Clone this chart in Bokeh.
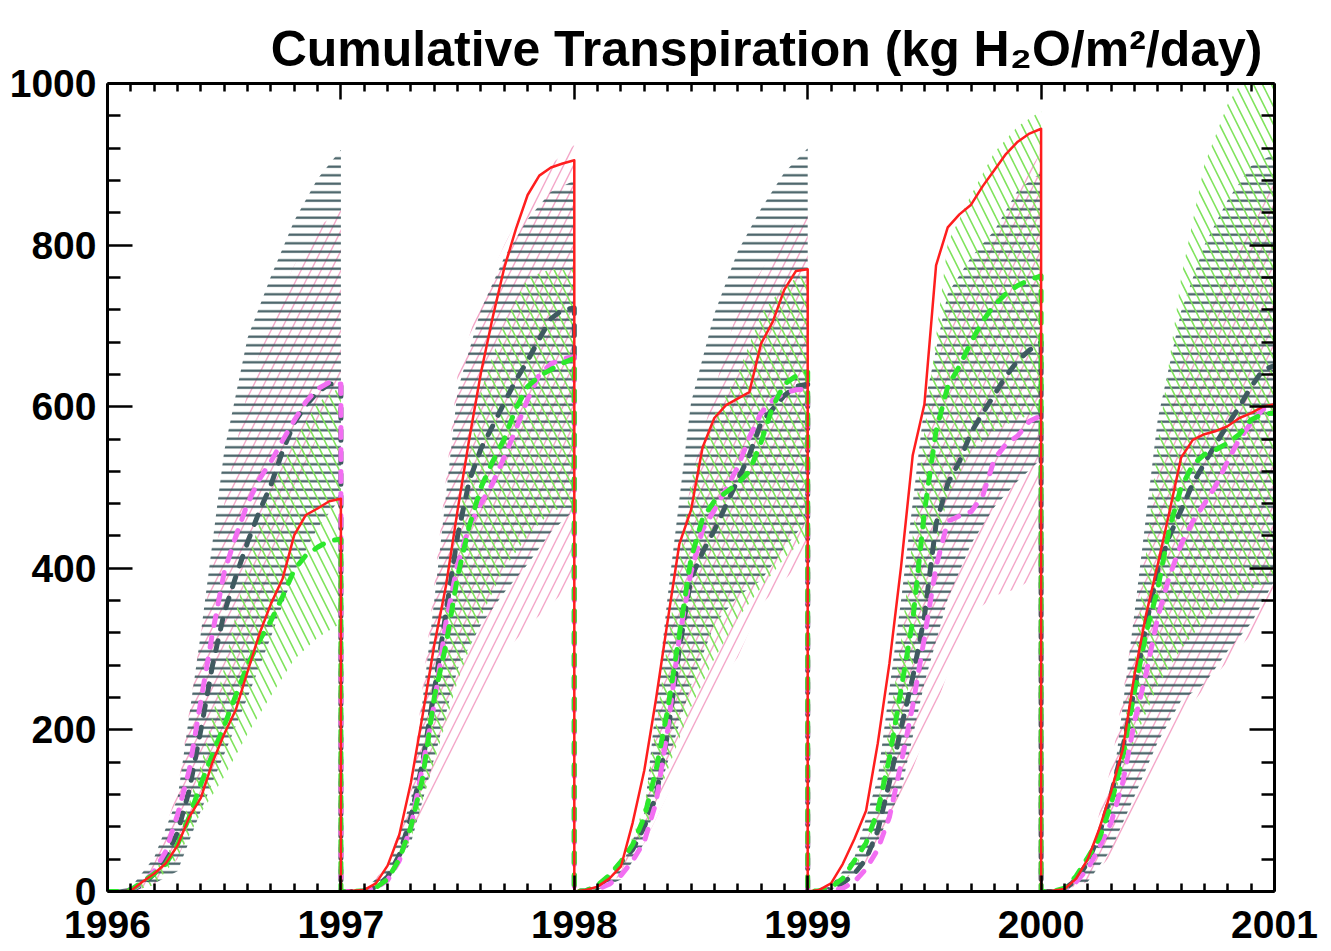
from bokeh.plotting import figure
from bokeh.models import FixedTicker, LinearAxis, Range1d, CustomJSTickFormatter
from bokeh.embed import file_html
from bokeh.resources import INLINE

YEARS = [1996, 1997, 1998, 1999, 2000]
X_TICKS = [1996, 1997, 1998, 1999, 2000, 2001]
Y_TICKS = [0, 200, 400, 600, 800, 1000]

# fraction of the year at which the curves were read
T_LINE = [0.0, 0.05, 0.1, 0.15, 0.2, 0.25, 0.3, 0.35, 0.4, 0.45, 0.5,
          0.55, 0.6, 0.65, 0.7, 0.75, 0.8, 0.85, 0.9, 0.95, 1.0]
T_BAND = [0.0, 0.1, 0.2, 0.3, 0.4, 0.5, 0.6, 0.7, 0.8, 0.9, 1.0]

RED = [
    [0, 0, 1, 12, 22, 35, 57, 92, 116, 160, 195, 225, 272, 318, 356, 387, 441, 466, 474, 483, 486],
    [0, 1, 2, 10, 32, 70, 135, 218, 305, 378, 472, 560, 642, 710, 772, 820, 862, 886, 896, 901, 905],
    [0, 2, 6, 16, 31, 85, 150, 238, 335, 430, 472, 550, 586, 602, 610, 618, 678, 705, 745, 768, 770],
    [0, 2, 10, 34, 65, 100, 183, 282, 402, 540, 603, 775, 822, 838, 850, 873, 893, 913, 928, 938, 944],
    [0, 1, 3, 16, 40, 78, 124, 176, 268, 343, 405, 470, 537, 559, 566, 570, 576, 586, 592, 600, 603],
]
GRAY = [
    [0, 0, 2, 8, 22, 42, 73, 125, 200, 280, 345, 390, 432, 470, 503, 545, 580, 602, 618, 628, 628],
    [0, 0, 1, 5, 18, 45, 92, 160, 248, 345, 440, 508, 548, 576, 605, 633, 657, 684, 709, 720, 722],
    [0, 1, 6, 18, 36, 52, 80, 118, 195, 300, 388, 420, 447, 478, 509, 540, 580, 597, 614, 625, 628],
    [0, 0, 3, 10, 22, 40, 75, 135, 202, 265, 340, 455, 505, 532, 568, 592, 615, 638, 657, 670, 680],
    [0, 0, 3, 14, 36, 72, 120, 178, 250, 330, 398, 440, 472, 505, 530, 555, 578, 600, 625, 645, 651],
]
VIOLET = [
    [0, 0, 2, 10, 25, 50, 95, 150, 236, 320, 395, 440, 480, 510, 532, 558, 583, 606, 622, 630, 628],
    [0, 0, 1, 4, 14, 38, 80, 155, 232, 333, 405, 452, 480, 505, 538, 572, 609, 640, 653, 659, 662],
    [0, 0, 3, 9, 20, 38, 62, 110, 200, 315, 395, 448, 472, 498, 525, 562, 592, 608, 617, 621, 622],
    [0, 0, 1, 4, 12, 28, 52, 92, 158, 230, 314, 402, 458, 465, 470, 490, 535, 554, 564, 582, 589],
    [0, 0, 2, 12, 28, 55, 85, 135, 210, 270, 340, 390, 430, 458, 480, 503, 533, 560, 580, 597, 598],
]
GREEN = [
    [0, 0, 2, 12, 22, 34, 58, 92, 133, 170, 205, 243, 280, 310, 335, 365, 398, 416, 426, 434, 436],
    [0, 0, 1, 5, 15, 40, 80, 140, 240, 305, 390, 452, 500, 532, 560, 598, 625, 638, 646, 654, 660],
    [0, 1, 8, 20, 37, 58, 92, 150, 225, 318, 412, 462, 483, 494, 505, 520, 556, 600, 628, 638, 643],
    [0, 1, 5, 16, 38, 60, 100, 165, 250, 335, 470, 570, 625, 650, 680, 706, 726, 740, 750, 757, 762],
    [0, 0, 4, 19, 42, 66, 108, 168, 248, 320, 375, 450, 500, 528, 541, 547, 555, 566, 584, 591, 592],
]

GRAY_HI = [
    [0, 5, 42, 115, 320, 545, 685, 761, 830, 882, 918],
    [0, 3, 28, 112, 360, 620, 720, 785, 832, 866, 880],
    [0, 6, 30, 97, 365, 605, 715, 792, 845, 890, 920],
    [0, 8, 42, 140, 360, 602, 740, 785, 818, 868, 890],
    [0, 5, 36, 115, 345, 585, 718, 800, 856, 898, 913],
]
GRAY_LO = [
    [0, 0, 10, 25, 100, 170, 240, 315, 395, 450, 487],
    [0, 0, 20, 60, 165, 275, 330, 370, 405, 445, 472],
    [0, 2, 15, 60, 160, 255, 330, 365, 385, 425, 460],
    [0, 2, 18, 62, 125, 258, 362, 430, 476, 508, 535],
    [0, 2, 12, 52, 118, 185, 236, 257, 298, 332, 385],
]
PINK_HI = [
    [0, 3, 35, 125, 320, 480, 620, 710, 775, 822, 843],
    [0, 2, 32, 125, 380, 640, 735, 800, 856, 900, 924],
    [0, 5, 25, 100, 300, 510, 620, 722, 768, 812, 843],
    [0, 4, 25, 98, 310, 545, 720, 762, 817, 871, 915],
    [0, 6, 40, 155, 335, 518, 651, 715, 770, 820, 880],
]
PINK_LO = [
    [0, 0, 8, 40, 110, 190, 290, 400, 480, 565, 630],
    [0, 0, 14, 55, 117, 182, 240, 295, 328, 355, 385],
    [0, 1, 20, 60, 120, 180, 250, 290, 355, 385, 418],
    [0, 2, 16, 55, 113, 190, 270, 342, 366, 375, 395],
    [0, 2, 12, 45, 104, 160, 215, 252, 285, 318, 378],
]
GREEN_HI = [
    [0, 2, 25, 65, 157, 278, 410, 500, 558, 605, 625],
    [0, 1, 15, 80, 270, 450, 620, 705, 760, 770, 770],
    [0, 5, 31, 105, 310, 510, 590, 640, 715, 750, 767],
    [0, 4, 26, 105, 310, 570, 803, 862, 915, 947, 966],
    [0, 5, 38, 105, 285, 555, 760, 900, 975, 1020, 1040],
]
GREEN_LO = [
    [0, 0, 8, 42, 97, 142, 195, 242, 287, 314, 332],
    [0, 0, 10, 65, 160, 260, 340, 400, 440, 470, 480],
    [0, 2, 30, 74, 150, 228, 288, 338, 376, 412, 441],
    [0, 3, 25, 88, 205, 355, 490, 545, 570, 585, 592],
    [0, 2, 32, 110, 187, 255, 300, 335, 360, 375, 385],
]

TITLE = "Cumulative Transpiration (kg H\u2082O/m\u00b2/day)"
FONT = "Liberation Sans"


def chain(series, grid):
    xs, ys = [], []
    for yr, vals in zip(YEARS, series):
        xs += [yr + t for t in grid]
        ys += list(vals)
    return xs, ys


p = figure(frame_width=1167, frame_height=808,
           x_range=Range1d(1996, 2001), y_range=Range1d(0, 1000),
           output_backend="svg", toolbar_location=None,
           min_border_left=107, min_border_top=83,
           min_border_right=49, min_border_bottom=56)
p.xgrid.visible = False
p.ygrid.visible = False
p.outline_line_color = None
p.background_fill_color = "white"
p.border_fill_color = "white"

p.title.text = TITLE
p.title.align = "right"
p.title.offset = 12
p.title.standoff = 13
p.title.text_font = FONT
p.title.text_font_style = "bold"
p.title.text_font_size = "50px"
p.title.text_color = "black"

# hatched min/max bands
bands = [
    (PINK_LO, PINK_HI, "/", "#F4A6C8", 1.4, 20),
    (GRAY_LO, GRAY_HI, "-", "#3F5A60", 2.2, 8.5),
    (GREEN_LO, GREEN_HI, "\\", "#7FE35C", 1.6, 18),
]
for lo, hi, pat, col, w, sc in bands:
    for i, yr in enumerate(YEARS):
        xs = [yr + t for t in T_BAND]
        p.varea(x=xs, y1=lo[i], y2=hi[i], fill_color="white", fill_alpha=0,
                hatch_pattern=pat, hatch_color=col, hatch_weight=w,
                hatch_scale=sc, hatch_alpha=1)

# dashed model lines and observed red line
for series, col in [(GRAY, "#3F5A60"), (VIOLET, "#F26EF2"), (GREEN, "#2CE82C")]:
    xs, ys = chain(series, T_LINE)
    p.line(xs, ys, line_color=col, line_width=5, line_dash="10 12",
           line_cap="round", line_join="round")
xs, ys = chain(RED, T_LINE)
p.line(xs, ys, line_color="#FF1E1E", line_width=2.5, line_join="round")

x_minor = [y + k / 10 for y in YEARS for k in range(1, 10)]
y_minor = [v + k * 40 for v in Y_TICKS[:-1] for k in range(1, 5)]
xt = FixedTicker(ticks=X_TICKS, minor_ticks=x_minor)
yt = FixedTicker(ticks=Y_TICKS, minor_ticks=y_minor)


def style(ax, horizontal, labels):
    ax.axis_line_width = 3
    ax.axis_line_color = "black"
    ax.major_tick_line_width = 2.5
    ax.minor_tick_line_width = 2.5
    ax.major_tick_out = 0
    ax.minor_tick_out = 0
    if horizontal:
        ax.major_tick_in = 16
        ax.minor_tick_in = 8
    else:
        ax.major_tick_in = 25
        ax.minor_tick_in = 13
    if labels:
        ax.major_label_text_font = FONT
        ax.major_label_text_font_style = "bold"
        ax.major_label_text_font_size = "39px"
        ax.major_label_text_color = "black"
        ax.major_label_standoff = 19 if horizontal else 11
    else:
        ax.formatter = CustomJSTickFormatter(code="return ''")
        ax.major_label_standoff = 0


p.xaxis[0].ticker = xt
p.yaxis[0].ticker = yt
style(p.xaxis[0], True, True)
style(p.yaxis[0], False, True)

top = LinearAxis(ticker=xt)
style(top, True, False)
p.add_layout(top, "above")
right = LinearAxis(ticker=yt)
style(right, False, False)
p.add_layout(right, "right")

open("out.html", "w").write(file_html(p, INLINE))
